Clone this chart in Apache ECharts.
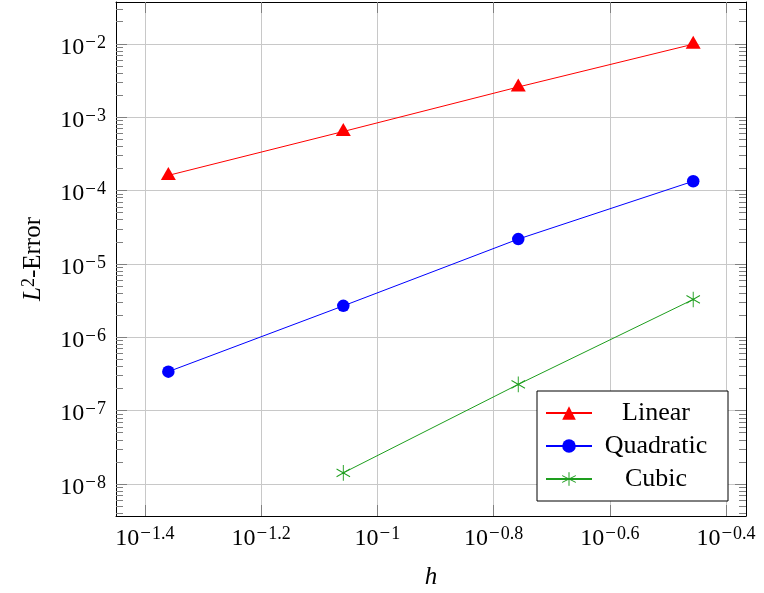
<!DOCTYPE html>
<html><head><meta charset="utf-8">
<script src="https://cdn.jsdelivr.net/npm/echarts@6/dist/echarts.min.js"></script>
<style>html,body{margin:0;padding:0;background:#fff}#c{width:764px;height:593px}</style>
</head><body><div id="c"></div>
<script>
// ---- data ----
const hValues = [0.0437, 0.0874, 0.1748, 0.3496];
const linearError = [1.61e-4, 6.38e-4, 2.58e-3, 9.88e-3];
const quadraticError = [3.40e-7, 2.68e-6, 2.18e-5, 1.34e-4];
const cubicError = [null, 1.42e-8, 2.28e-7, 3.28e-6];
const seriesNames = ['Linear', 'Quadratic', 'Cubic'];
const xTickExponents = [-1.4, -1.2, -1, -0.8, -0.6, -0.4];
const yTickExponents = [-8, -7, -6, -5, -4, -3, -2];

// ---- view ----
const F = '"Liberation Serif", "Times New Roman", serif';
const xMin = -1.4496, xMax = -0.3656;
const yMin = -8.436, yMax = -1.430;
const RED = '#ff0000', BLUE = '#0000ff', GREEN = '#1e9e1e';
const TICK = '#808080', GRID = '#c8c8c8';

function toLogPairs(err) {
  return hValues.map((h, i) => err[i] == null ? null : [Math.log10(h), Math.log10(err[i])])
                .filter(p => p !== null);
}
const yMinor = [];
for (let n = -9; n <= -1; n++) for (let k = 2; k <= 9; k++) {
  const v = n + Math.log10(k);
  if (v > yMin && v < yMax) yMinor.push(v);
}
const rich = {
  b: { fontFamily: F, fontSize: 24, lineHeight: 24, padding: [3, 0, 0, 0], color: '#000' },
  m: { fontFamily: F, fontSize: 19, lineHeight: 17, verticalAlign: 'top', padding: [0, 1, 0, 1], color: '#000' },
  s: { fontFamily: F, fontSize: 18, lineHeight: 17, verticalAlign: 'top', color: '#000' },
  i: { fontFamily: F, fontSize: 25, lineHeight: 24, padding: [3, 0, 0, 0], fontStyle: 'italic', color: '#000' },
  t: { fontFamily: F, fontSize: 25, lineHeight: 24, padding: [3, 0, 0, 0], color: '#000' }
};
const expFmt = v => '{b|10}{m|\u2212}{s|' + Math.abs(Math.round(v * 100) / 100) + '}';

const majorTick = (vals) => ({ show: true, inside: true, length: 11, customValues: vals, lineStyle: { color: TICK, width: 1 } });
const minorTick = (vals) => ({ show: true, inside: true, length: 7, customValues: vals, lineStyle: { color: TICK, width: 1 } });
const blackLine = { show: true, onZero: false, lineStyle: { color: '#000', width: 1 } };

const chart = echarts.init(document.getElementById('c'), null, { renderer: 'canvas' });
chart.setOption({
  animation: false,
  backgroundColor: '#fff',
  grid: { left: 116, right: 18, top: 2, bottom: 77, containLabel: false, outerBoundsMode: 'none' },
  xAxis: [
    { type: 'value', position: 'bottom', min: xMin, max: xMax,
      axisLine: blackLine, axisTick: majorTick(xTickExponents),
      axisLabel: { show: true, customValues: xTickExponents, formatter: expFmt, margin: 9, rich: rich, color: '#000' },
      splitLine: { show: true, lineStyle: { color: GRID, width: 1 } },
      name: '{i|h}', nameLocation: 'middle', nameGap: 48, nameTextStyle: { rich: rich } },
    { type: 'value', position: 'top', min: xMin, max: xMax,
      axisLine: blackLine, axisTick: majorTick(xTickExponents),
      axisLabel: { show: false }, splitLine: { show: false } }
  ],
  yAxis: [
    { type: 'value', position: 'left', min: yMin, max: yMax,
      axisLine: blackLine, axisTick: majorTick(yTickExponents),
      axisLabel: { show: true, customValues: yTickExponents, formatter: expFmt, margin: 10, padding: [4, 0, 0, 0], rich: rich, color: '#000' },
      splitLine: { show: true, lineStyle: { color: GRID, width: 1 } },
      name: '{i|L}{s|2}{t|-Error}', nameLocation: 'middle', nameGap: 72, nameRotate: 90, nameTextStyle: { rich: rich } },
    { type: 'value', position: 'left', min: yMin, max: yMax,
      axisLine: { show: false }, axisTick: minorTick(yMinor), axisLabel: { show: false }, splitLine: { show: false } },
    { type: 'value', position: 'right', min: yMin, max: yMax,
      axisLine: blackLine, axisTick: majorTick(yTickExponents), axisLabel: { show: false }, splitLine: { show: false } },
    { type: 'value', position: 'right', min: yMin, max: yMax,
      axisLine: { show: false }, axisTick: minorTick(yMinor), axisLabel: { show: false }, splitLine: { show: false } }
  ],
  legend: {
    orient: 'vertical', left: 537, top: 391,
    padding: [9, 13, 9, 8], itemWidth: 46, itemHeight: 17, itemGap: 7,
    borderColor: '#000', borderWidth: 1, borderRadius: 0, backgroundColor: '#fff',
    data: [{ name: seriesNames[0] }, { name: seriesNames[1] }, { name: seriesNames[2], itemStyle: { borderWidth: 1 } }],
    formatter: n => '{c|' + n + '}',
    textStyle: { fontFamily: F, fontSize: 26, lineHeight: 24, color: '#000',
      rich: { c: { fontFamily: F, fontSize: 26, lineHeight: 24, width: 118, align: 'center', color: '#000' } } }
  },
  series: [
    { name: seriesNames[0], type: 'line', xAxisIndex: 0, yAxisIndex: 0, data: toLogPairs(linearError),
      symbol: 'triangle', symbolSize: [15, 13], symbolOffset: [0, -2], color: RED,
      lineStyle: { color: RED, width: 1 }, itemStyle: { color: RED, borderWidth: 0 }, z: 3 },
    { name: seriesNames[1], type: 'line', xAxisIndex: 0, yAxisIndex: 0, data: toLogPairs(quadraticError),
      symbol: 'circle', symbolSize: 12.5, color: BLUE,
      lineStyle: { color: BLUE, width: 1 }, itemStyle: { color: BLUE, borderWidth: 0 }, z: 3 },
    { name: seriesNames[2], type: 'line', xAxisIndex: 0, yAxisIndex: 0, data: toLogPairs(cubicError),
      symbol: 'path://M0 -1L0 1M-0.866 -0.5L0.866 0.5M-0.866 0.5L0.866 -0.5', symbolSize: [13.5, 15.6], color: GREEN,
      lineStyle: { color: GREEN, width: 1 }, itemStyle: { color: GREEN, borderColor: GREEN, borderWidth: 1 }, z: 3 }
  ]
});
</script>
</body></html>
